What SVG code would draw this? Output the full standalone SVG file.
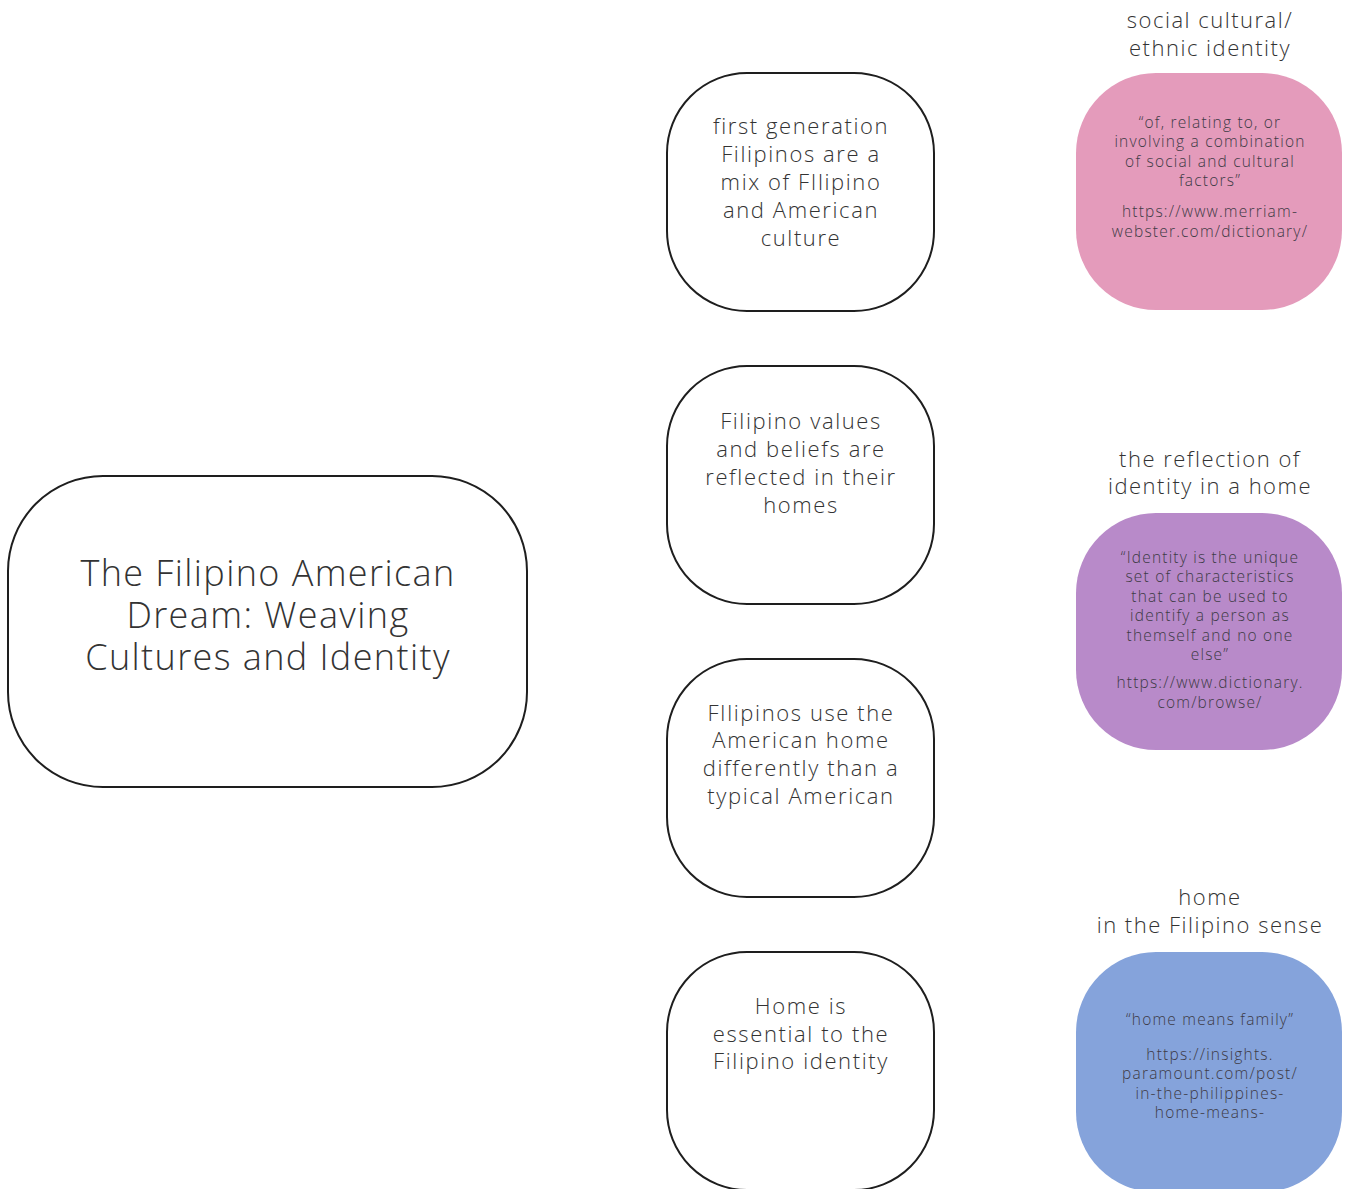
<svg xmlns="http://www.w3.org/2000/svg" width="1350" height="1189" viewBox="0 0 1350 1189">
<style>
.box{fill:#fff;stroke:#1e1e1e;stroke-width:2}
.t{font-family:"Open Sans","Liberation Sans",sans-serif;font-weight:300;fill:#333;text-anchor:middle}
.main{font-size:36px;letter-spacing:1.4px}
.mid{font-size:22px;letter-spacing:1.6px}
.hd{font-size:22px;letter-spacing:1.5px}
.sm{font-size:15.5px;letter-spacing:1.2px;fill:#3d3a45}
</style>
<rect width="1350" height="1189" fill="#fff"/>
<g id="main">
<rect class="box" x="8" y="476" width="519" height="311" rx="95"/>
<text class="t main"><tspan x="268" y="586">The Filipino American</tspan><tspan x="268" y="628">Dream: Weaving</tspan><tspan x="268" y="670">Cultures and Identity</tspan></text>
</g>
<g id="node1">
<rect class="box" x="667" y="73" width="267" height="238" rx="80"/>
<text class="t mid"><tspan x="801" y="134">first generation</tspan><tspan x="801" y="162">Filipinos are a</tspan><tspan x="801" y="190">mix of FIlipino</tspan><tspan x="801" y="218">and American</tspan><tspan x="801" y="246">culture</tspan></text>
</g>
<g id="node2">
<rect class="box" x="667" y="366" width="267" height="238" rx="80"/>
<text class="t mid"><tspan x="801" y="429">Filipino values</tspan><tspan x="801" y="457">and beliefs are</tspan><tspan x="801" y="485">reflected in their</tspan><tspan x="801" y="513">homes</tspan></text>
</g>
<g id="node3">
<rect class="box" x="667" y="659" width="267" height="238" rx="80"/>
<text class="t mid"><tspan x="801" y="721">FIlipinos use the</tspan><tspan x="801" y="748">American home</tspan><tspan x="801" y="776">differently than a</tspan><tspan x="801" y="804">typical American</tspan></text>
</g>
<g id="node4">
<rect class="box" x="667" y="952" width="267" height="238" rx="80"/>
<text class="t mid"><tspan x="801" y="1014">Home is</tspan><tspan x="801" y="1042">essential to the</tspan><tspan x="801" y="1069">Filipino identity</tspan></text>
</g>
<g id="def1">
<text class="t hd"><tspan x="1210" y="28">social cultural/</tspan><tspan x="1210" y="56">ethnic identity</tspan></text>
<rect x="1076" y="73" width="266" height="237" rx="80" fill="#e49bbb"/>
<text class="t sm"><tspan x="1210" y="128">“of, relating to, or</tspan><tspan x="1210" y="147">involving a combination</tspan><tspan x="1210" y="167">of social and cultural</tspan><tspan x="1210" y="186">factors”</tspan><tspan x="1210" y="217">https://www.merriam-</tspan><tspan x="1210" y="237">webster.com/dictionary/</tspan></text>
</g>
<g id="def2">
<text class="t hd"><tspan x="1210" y="467">the reflection of</tspan><tspan x="1210" y="494">identity in a home</tspan></text>
<rect x="1076" y="513" width="266" height="237" rx="80" fill="#b88ac9"/>
<text class="t sm"><tspan x="1210" y="563">“Identity is the unique</tspan><tspan x="1210" y="582">set of characteristics</tspan><tspan x="1210" y="602">that can be used to</tspan><tspan x="1210" y="621">identify a person as</tspan><tspan x="1210" y="641">themself and no one</tspan><tspan x="1210" y="660">else”</tspan><tspan x="1210" y="688">https://www.dictionary.</tspan><tspan x="1210" y="708">com/browse/</tspan></text>
</g>
<g id="def3">
<text class="t hd"><tspan x="1210" y="905">home</tspan><tspan x="1210" y="933">in the Filipino sense</tspan></text>
<rect x="1076" y="952" width="266" height="240" rx="80" fill="#85a3db"/>
<text class="t sm"><tspan x="1210" y="1025">“home means family”</tspan><tspan x="1210" y="1060">https://insights.</tspan><tspan x="1210" y="1079">paramount.com/post/</tspan><tspan x="1210" y="1099">in-the-philippines-</tspan><tspan x="1210" y="1118">home-means-</tspan></text>
</g>
<g id="connectors"/>
</svg>
